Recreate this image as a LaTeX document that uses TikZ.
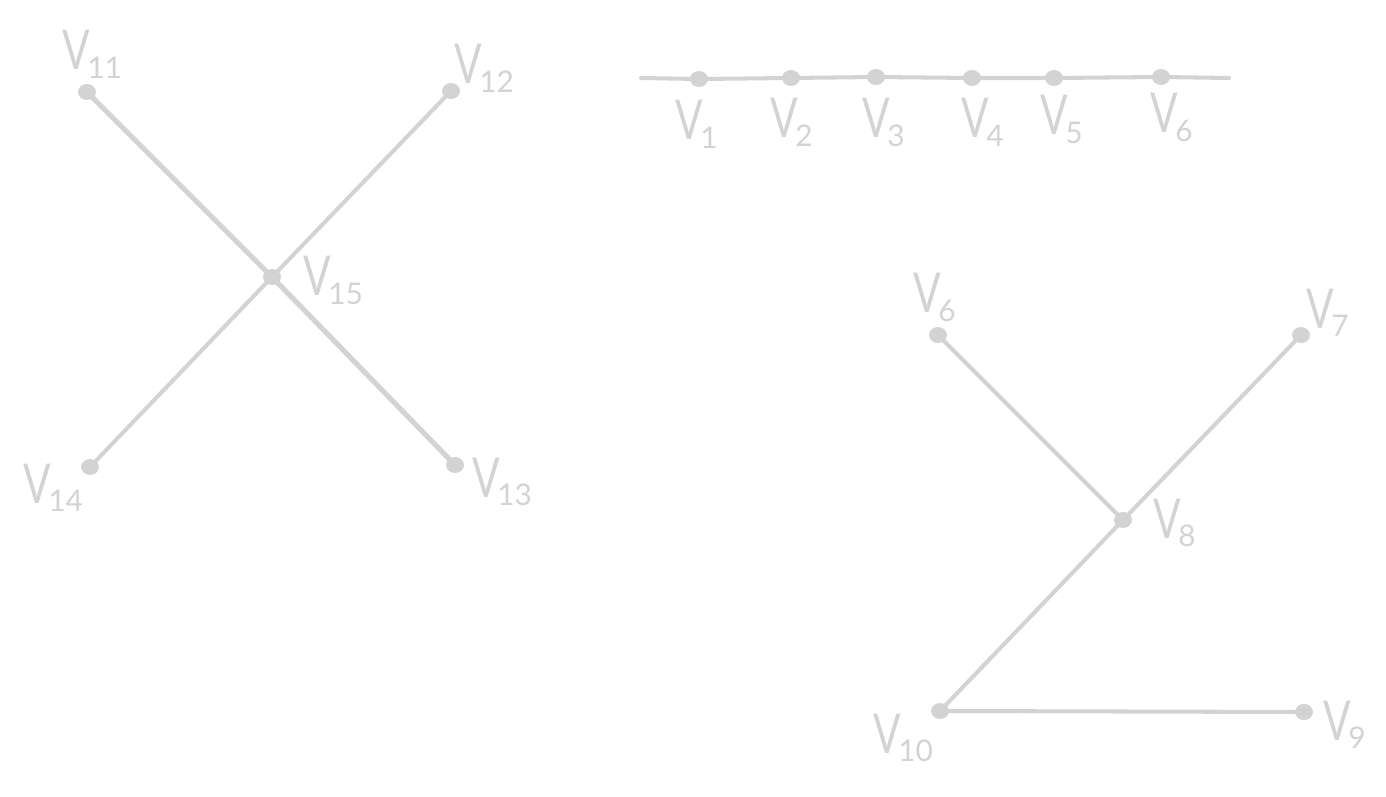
\documentclass[tikz,border=0pt]{standalone}
\usepackage{fontspec}
\setmainfont{Lato}
\usetikzlibrary{shapes.geometric,backgrounds}
\definecolor{lg}{HTML}{D3D3D3}
\newcommand{\vlab}[1]{\scalebox{0.8}[1.08]{V}\kern-1.5pt\raisebox{-5pt}{\fontsize{17}{17}\selectfont #1}}
\tikzset{
  vdot/.style={ellipse,fill=lg,inner sep=0pt,minimum width=0.36cm,minimum height=0.32cm},
  vlabel/.style={anchor=base west,inner sep=0pt,text=lg,font=\fontsize{29}{30}\selectfont},
  edge/.style={draw=lg,line width=2.3pt,line cap=round},
  thick edge/.style={draw=lg,line width=2.9pt,line cap=round}
}
\begin{document}
\begin{tikzpicture}[x=0.02cm,y=-0.02cm]
\useasboundingbox (0,0) rectangle (1386,797);
% left cross
\node[vdot] (v11) at (87,92) {};
\node[vdot] (v12) at (451,91) {};
\node[vdot] (v15) at (272,277) {};
\node[vdot] (v14) at (90,467) {};
\node[vdot] (v13) at (455,465) {};
\node[vlabel] (l11) at (62,70) {\vlab{11}};
\node[vlabel] (l12) at (454,84) {\vlab{12}};
\node[vlabel] (l15) at (303,296) {\vlab{15}};
\node[vlabel] (l14) at (23,503) {\vlab{14}};
\node[vlabel] (l13) at (472,497) {\vlab{13}};
% top path
\coordinate (pl) at (641,78);
\coordinate (pr) at (1229,78);
\node[vdot] (p1) at (699,79) {};
\node[vdot] (p2) at (791,78) {};
\node[vdot] (p3) at (876,77) {};
\node[vdot] (p4) at (972,78) {};
\node[vdot] (p5) at (1054,78) {};
\node[vdot] (p6) at (1161,77) {};
\node[vlabel] (lp1) at (675,140) {\vlab{1}};
\node[vlabel] (lp2) at (770,138) {\vlab{2}};
\node[vlabel] (lp3) at (862,138) {\vlab{3}};
\node[vlabel] (lp4) at (961,138) {\vlab{4}};
\node[vlabel] (lp5) at (1040,135) {\vlab{5}};
\node[vlabel] (lp6) at (1150,133) {\vlab{6}};
% lower tree
\node[vdot] (w6) at (938,335) {};
\node[vdot] (w7) at (1301,335) {};
\node[vdot] (w8) at (1123,520) {};
\node[vdot] (w10) at (940,711) {};
\node[vdot] (w9) at (1304,712) {};
\node[vlabel] (lw6) at (913,313) {\vlab{6}};
\node[vlabel] (lw7) at (1306,328) {\vlab{7}};
\node[vlabel] (lw8) at (1153,538) {\vlab{8}};
\node[vlabel] (lw10) at (873,753) {\vlab{10}};
\node[vlabel] (lw9) at (1323,740) {\vlab{9}};
\begin{scope}[on background layer]
\draw[thick edge] (v11.center) -- (v15.center) -- (v13.center);
\draw[edge] (v12.center) -- (v15.center) -- (v14.center);
\draw[edge] (pl) -- (p1.center) -- (p2.center) -- (p3.center) -- (p4.center) -- (p5.center) -- (p6.center) -- (pr);
\draw[edge] (w6.center) -- (w8.center);
\draw[edge] (w7.center) -- (w8.center) -- (w10.center) -- (w9.center);
\end{scope}
\end{tikzpicture}
\end{document}
